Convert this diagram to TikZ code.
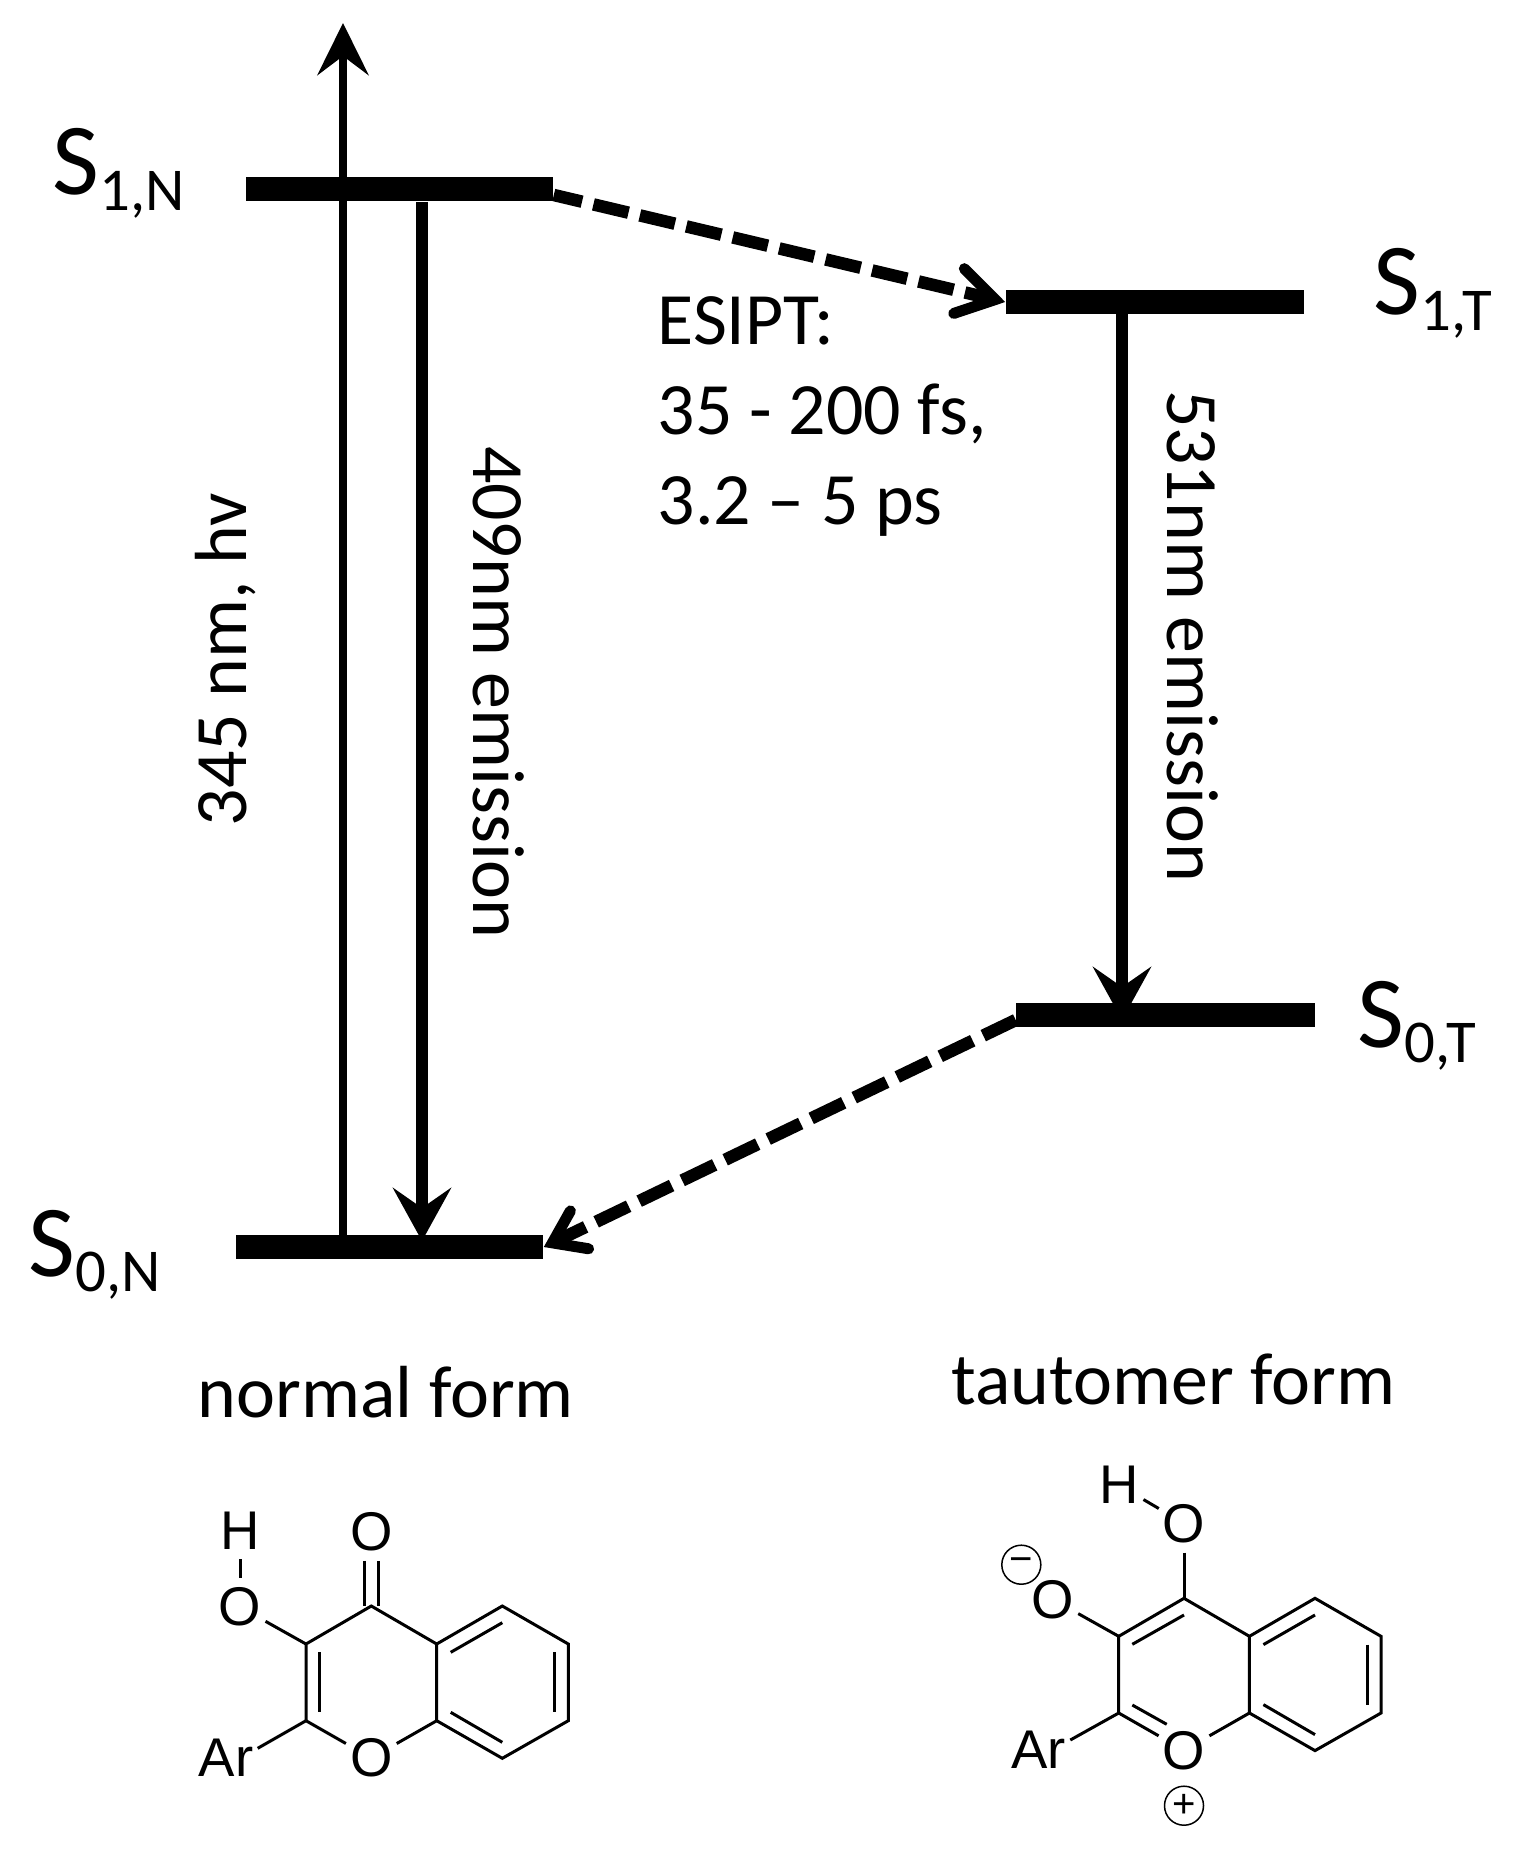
\documentclass[tikz,border=0pt]{standalone}
\usepackage{fontspec}
\usepackage{xcolor}
\usepackage{tikz}
\usetikzlibrary{arrows.meta, shapes, positioning, calc}
\setmainfont{Carlito}
\newfontfamily\atomfont{Liberation Sans}
\newcommand{\statelabel}[1]{{\fontsize{29}{32}\selectfont S}\raisebox{-.157cm}{\fontsize{17.3}{20}\selectfont #1}}

\begin{document}
\begin{tikzpicture}[
        x=0.01cm, y=-0.01cm,
        energylevel/.style={rectangle, fill=black, inner sep=0pt, minimum width=3.03cm, minimum height=0.24cm},
        caption/.style={anchor=base west, inner sep=0pt, font=\fontsize{21}{25.6}\selectfont},
        sidelabel/.style={anchor=base, inner sep=0pt, font=\fontsize{21}{25.6}\selectfont},
        statename/.style={anchor=base west, inner sep=0pt},
        excitation/.style={line width=0.08cm, -{Stealth[length=0.52cm, width=0.51cm, inset=0.19cm]}},
        emission/.style={line width=0.115cm, -{Stealth[length=0.53cm, width=0.58cm, inset=0.2cm]}},
        transfer/.style={line width=0.125cm, dash pattern=on 0.36cm off 0.117cm},
        atom/.style={circle, inner sep=0pt, minimum size=0.56cm, font=\atomfont\fontsize{15.5}{17}\selectfont},
        aryl/.style={anchor=base west, inner sep=0pt, font=\atomfont\fontsize{15.5}{17}\selectfont},
        charge/.style={circle, draw, line width=0.015cm, inner sep=0pt, minimum size=0.39cm, font=\atomfont\fontsize{11.4}{12}\selectfont},
        bond/.style={line width=0.03cm, line join=miter}
    ]
        \useasboundingbox (0,0) rectangle (1516,1852);

        % energy levels
        \node (s1n) [energylevel, minimum width=3.07cm] at (399.5,189) {};
        \node (s1t) [energylevel, minimum width=2.98cm] at (1155,302) {};
        \node (s0t) [energylevel, minimum width=2.98cm] at (1165.5,1015) {};
        \node (s0n) [energylevel, minimum width=3.07cm] at (389.5,1247) {};
        \coordinate (top) at (343,23);
        \coordinate (em1) at (422,202);
        \coordinate (em1end) at (422,1241);
        \coordinate (em2end) at (1122,1020);

        \node (ls1n) [statename] at (52,195) {\statelabel{1,N}};
        \node (ls1t) [statename] at (1373,315) {\statelabel{1,T}};
        \node (ls0t) [statename] at (1357,1047) {\statelabel{0,T}};
        \node (ls0n) [statename] at (28,1276) {\statelabel{0,N}};

        \draw [excitation] (s0n -| top) -- (top);
        \draw [emission] (em1) -- (em1end);
        \draw [emission] (s1t -| em2end) -- (em2end);
        \draw [transfer, dash phase=0.07cm, -{Straight Barb[length=0.37cm, width=0.46cm, line cap=round, line width=0.11cm]}] ([yshift=-0.06cm]s1n.east) -- (s1t.west);
        \draw [transfer, -{Straight Barb[length=0.3cm, width=0.42cm, line cap=round, line width=0.11cm]}] ([yshift=-0.05cm]s0t.west) -- (s0n.east);

        \node (lexc) [sidelabel, rotate=90] at (246,660) {345 nm, hv};
        \node (lem1) [sidelabel, rotate=-90] at (473,692) {409nm emission};
        \node (lem2) [sidelabel, rotate=-90] at (1167,636) {531nm emission};
        \node (esipt) [caption] at (657,344) {ESIPT:};
        \node (times1) [caption] at (657,434) {35 - 200 fs,};
        \node (times2) [caption] at (657,524) {3.2 -- 5 ps};
        \node (normal) [caption] at (197,1417) {normal form};
        \node (tautomer) [caption] at (951,1404) {tautomer form};

        % carbon skeleton shared by both forms
        \foreach \m/\ox/\oy in {n/0/0, t/812.7/-7.7} {
            \coordinate (\m c2) at (306+\ox,1720.7+\oy);
            \coordinate (\m c3) at (306+\ox,1644+\oy);
            \coordinate (\m c4) at (371.3+\ox,1606+\oy);
            \coordinate (\m c4a) at (436.7+\ox,1644+\oy);
            \coordinate (\m c5) at (502.3+\ox,1606+\oy);
            \coordinate (\m c6) at (568.3+\ox,1644+\oy);
            \coordinate (\m c7) at (568.3+\ox,1720.7+\oy);
            \coordinate (\m c8) at (502.3+\ox,1758.3+\oy);
            \coordinate (\m c8a) at (436.7+\ox,1720.7+\oy);
            \node (\m o1) [atom] at (371.3+\ox,1758+\oy) {O};
            \draw [bond] (\m c2) -- (\m c3) -- (\m c4) -- (\m c4a) -- (\m c5) -- (\m c6) -- (\m c7) -- (\m c8) -- (\m c8a) -- (\m c4a);
            \draw [bond] (\m c2) -- (\m o1);
            \draw [bond] (\m c8a) -- (\m o1);
            \draw [bond] (450.7+\ox,1652.3+\oy) -- (502.3+\ox,1622.7+\oy);
            \draw [bond] (554.7+\ox,1652.3+\oy) -- (554.7+\ox,1712.3+\oy);
            \draw [bond] (450.7+\ox,1712.3+\oy) -- (502.3+\ox,1742.3+\oy);
        }

        % normal form
        \node (nh) [atom] at (240,1530.7) {H};
        \node (no3) [atom] at (240,1607) {O};
        \node (no4) [atom] at (371.3,1531.7) {O};
        \node (nar) [aryl] at (198,1776.7) {Ar};
        \coordinate (narend) at (257.7,1748.3);
        \draw [bond] (nh) -- (no3);
        \draw [bond] (no3) -- (nc3);
        \draw [bond] (nc2) -- (narend);
        \draw [bond] ([xshift=-0.068cm]no4.south) -- ([xshift=-0.068cm]nc4);
        \draw [bond] ([xshift=0.068cm]no4.south) -- ([xshift=0.068cm]nc4);
        \draw [bond] (319.3,1652.3) -- (319.3,1712.3);

        % tautomer form
        \node (th) [atom] at (1118.7,1485) {H};
        \node (to4) [atom] at (1184,1523.3) {O};
        \node (to3) [atom] at (1052.7,1599.3) {O};
        \node (tar) [aryl] at (1010.7,1768.7) {Ar};
        \node (tminus) [charge] at (1021.3,1564.7) {−};
        \node (tplus) [charge] at (1184,1805.7) {+};
        \coordinate (tarend) at (1070.3,1740);
        \draw [bond] (th) -- (to4);
        \draw [bond] (to4) -- (tc4);
        \draw [bond] (to3) -- (tc3);
        \draw [bond] (tc2) -- (tarend);
        \draw [bond] (1132.3,1644.3) -- (1184,1615);
        \draw [bond] (1132.3,1705) -- (1166.7,1724.3);
    \end{tikzpicture}
\end{document}
